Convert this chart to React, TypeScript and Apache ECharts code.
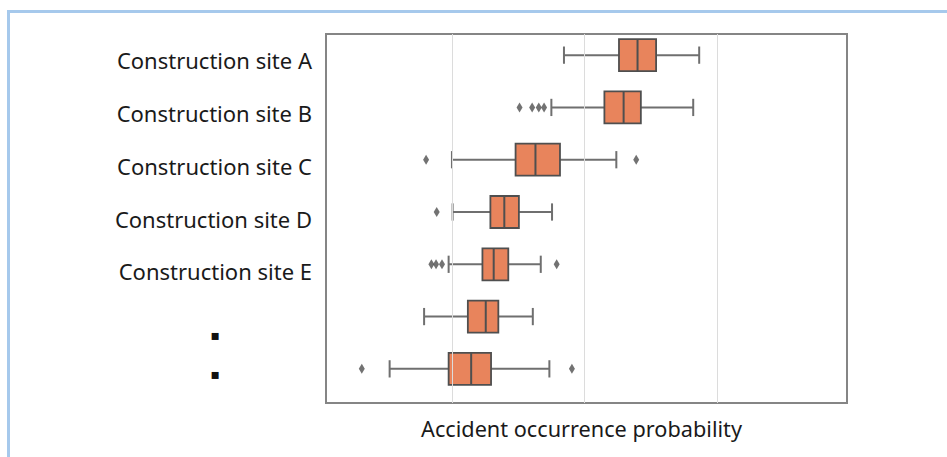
import React, { useEffect, useRef } from "react";
import * as echarts from "echarts";

// ---- data ----
const categories = [
  "Construction site A",
  "Construction site B",
  "Construction site C",
  "Construction site D",
  "Construction site E",
  "▪",
  "▪",
];
const lowWhisker = [0.369, 0.35, 0.2, 0.201, 0.195, 0.158, 0.106];
const q1 = [0.452, 0.43, 0.296, 0.258, 0.246, 0.224, 0.195];
const median = [0.48, 0.459, 0.326, 0.279, 0.263, 0.251, 0.229];
const q3 = [0.508, 0.485, 0.363, 0.301, 0.285, 0.27, 0.259];
const highWhisker = [0.573, 0.564, 0.448, 0.351, 0.334, 0.322, 0.347];
const outlierRows = [1, 1, 1, 1, 2, 2, 3, 4, 4, 4, 4, 6, 6];
const outlierValues = [0.302, 0.321, 0.331, 0.339, 0.161, 0.478, 0.177, 0.169, 0.176, 0.185, 0.358, 0.064, 0.381];
const gridValues = [0.2, 0.4, 0.6];
const xMin = 0.01;
const xMax = 0.796;
const axisTitle = "Accident occurrence probability";

export default function App() {
  const ref = useRef<HTMLDivElement>(null);
  useEffect(() => {
    document.body.style.margin = "0";
    if (!ref.current) return;
    const chart = echarts.init(ref.current, null, { renderer: "svg" });

    const boxData = categories.map((_, i) => [i, lowWhisker[i], q1[i], median[i], q3[i], highWhisker[i]]);
    const outlierData = outlierValues.map((v, i) => [v, outlierRows[i]]);

    const renderItem = (params: any, api: any) => {
      const idx = api.value(0);
      const yC = api.coord([api.value(3), idx])[1];
      const band = api.size([0, 1])[1];
      const boxH = band * 0.612;
      const capH = band * 0.33;
      const xLow = api.coord([api.value(1), idx])[0];
      const xQ1 = api.coord([api.value(2), idx])[0];
      const xMed = api.coord([api.value(3), idx])[0];
      const xQ3 = api.coord([api.value(4), idx])[0];
      const xHigh = api.coord([api.value(5), idx])[0];
      const wStyle = { stroke: "#6f6f6f", lineWidth: 2 };
      const bStroke = "#4f4f4f";
      return {
        type: "group",
        children: [
          { type: "line", shape: { x1: xLow, y1: yC, x2: xQ1, y2: yC }, style: wStyle },
          { type: "line", shape: { x1: xQ3, y1: yC, x2: xHigh, y2: yC }, style: wStyle },
          { type: "line", shape: { x1: xLow, y1: yC - capH / 2, x2: xLow, y2: yC + capH / 2 }, style: wStyle },
          { type: "line", shape: { x1: xHigh, y1: yC - capH / 2, x2: xHigh, y2: yC + capH / 2 }, style: wStyle },
          {
            type: "rect",
            shape: { x: xQ1, y: yC - boxH / 2, width: xQ3 - xQ1, height: boxH },
            style: { fill: "#e8845c", stroke: bStroke, lineWidth: 1.8 },
          },
          {
            type: "line",
            shape: { x1: xMed, y1: yC - boxH / 2, x2: xMed, y2: yC + boxH / 2 },
            style: { stroke: bStroke, lineWidth: 2 },
          },
        ],
      };
    };

    chart.setOption({
      animation: false,
      backgroundColor: "#ffffff",
      graphic: [
        { type: "rect", silent: true, shape: { x: 7, y: 10, width: 3, height: 447 }, style: { fill: "#a6c9ec" } },
        { type: "rect", silent: true, shape: { x: 7, y: 10, width: 940, height: 3 }, style: { fill: "#a6c9ec" } },
      ],
      grid: [
        { left: 326, top: 34, width: 521, height: 369, show: true, borderColor: "#858585", borderWidth: 2, backgroundColor: "transparent" },
        { left: 326, top: 29, width: 521, height: 366 },
      ],
      xAxis: [
        {
          gridIndex: 0,
          type: "value",
          min: xMin,
          max: xMax,
          axisLine: { show: false },
          axisTick: { show: false },
          axisLabel: { show: false },
          splitLine: { show: false },
          name: axisTitle,
          nameLocation: "middle",
          nameGap: 14,
          nameTextStyle: {
            fontSize: 21.7,
            color: "#1a1a1a",
            fontFamily: "Noto Sans",
            verticalAlign: "top",
            padding: [0, 10, 0, 0],
          },
        },
        { gridIndex: 1, type: "value", min: xMin, max: xMax, show: false },
      ],
      yAxis: [
        {
          gridIndex: 0,
          type: "category",
          inverse: true,
          data: categories,
          axisLine: { show: false },
          axisTick: { show: false },
          splitLine: { show: false },
          axisLabel: {
            margin: 14,
            fontSize: 22,
            color: "#1a1a1a",
            fontFamily: "Noto Sans",
            formatter: (v: string, i: number) => (i === 5 ? "{dotF|" + v + "}" : i === 6 ? "{dotG|" + v + "}" : v),
            rich: {
              dotF: { fontSize: 14, fontFamily: "DejaVu Sans", color: "#111", padding: [22, 92, 0, 0] },
              dotG: { fontSize: 14, fontFamily: "DejaVu Sans", color: "#111", padding: [0, 92, 6, 0] },
            },
          },
        },
        { gridIndex: 1, type: "category", inverse: true, data: categories, show: false },
      ],
      series: [
        {
          type: "line",
          xAxisIndex: 0,
          yAxisIndex: 0,
          data: [],
          silent: true,
          markLine: {
            silent: true,
            symbol: "none",
            label: { show: false },
            lineStyle: { color: "#dcdcdc", width: 1, type: "solid" },
            data: gridValues.map((v) => ({ xAxis: v })),
          },
        },
        {
          type: "custom",
          xAxisIndex: 1,
          yAxisIndex: 1,
          renderItem,
          encode: { x: [1, 2, 3, 4, 5], y: 0 },
          data: boxData,
          silent: true,
        },
        {
          type: "scatter",
          xAxisIndex: 1,
          yAxisIndex: 1,
          symbol: "diamond",
          symbolSize: [6, 10],
          itemStyle: { color: "#4f4f4f" },
          data: outlierData,
          silent: true,
        },
      ],
    });
    return () => chart.dispose();
  }, []);
  return <div ref={ref} style={{ width: 947, height: 457 }} />;
}
